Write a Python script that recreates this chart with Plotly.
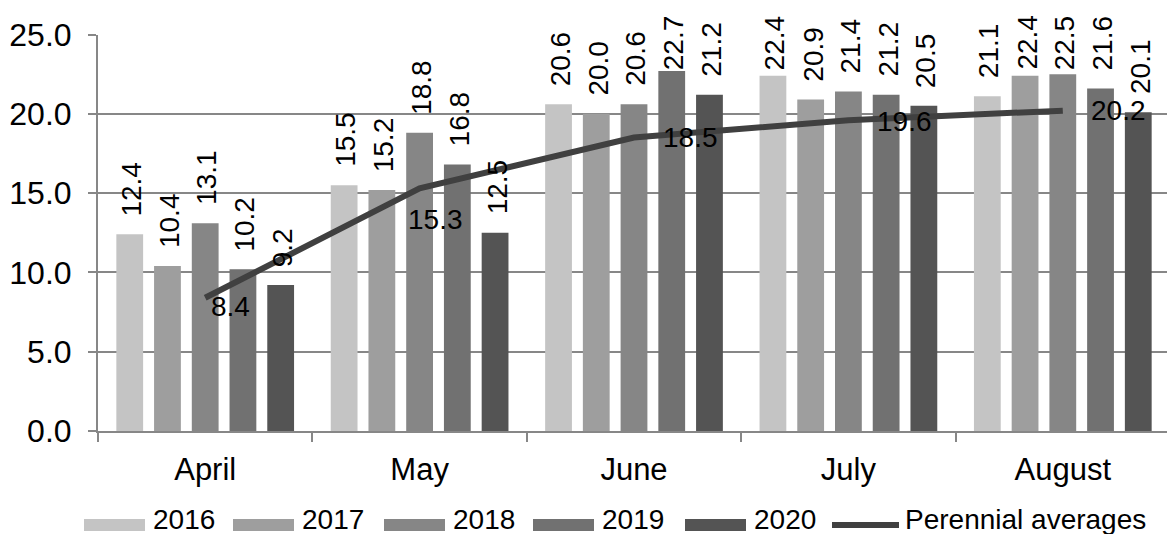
import plotly.graph_objects as go

# ---- data -------------------------------------------------------------
months = ["April", "May", "June", "July", "August"]
years = ["2016", "2017", "2018", "2019", "2020"]
t2016 = [12.4, 15.5, 20.6, 22.4, 21.1]
t2017 = [10.4, 15.2, 20.0, 20.9, 22.4]
t2018 = [13.1, 18.8, 20.6, 21.4, 22.5]
t2019 = [10.2, 16.8, 22.7, 21.2, 21.6]
t2020 = [9.2, 12.5, 21.2, 20.5, 20.1]
perennial = [8.4, 15.3, 18.5, 19.6, 20.2]
avg_name = "Perennial averages"
y_ticks = [0, 5, 10, 15, 20, 25]

series = [t2016, t2017, t2018, t2019, t2020]
bar_colors = ["#c4c4c4", "#9e9e9e", "#868686", "#717171", "#545454"]
line_color = "#404040"
grid_color = "#878787"
FONT = "Liberation Sans, Arial, sans-serif"

# ---- canvas geometry (pixels) ------------------------------------------
W, H = 1167, 536
plot_left, plot_right = 98, W
plot_top, plot_bottom = 34.5, 431
y_min, y_max = 0, 25
x_min, x_max = -0.5, 4.486
bargap, bargroupgap = 0.12, 0.29
cat_px = (plot_right - plot_left) / (x_max - x_min)
slot_px = cat_px * (1 - bargap) / len(series)
unit_px = (plot_bottom - plot_top) / (y_max - y_min)

fig = go.Figure()

for name, vals, col in zip(years, series, bar_colors):
    fig.add_trace(go.Bar(
        x=months, y=vals, name=name, marker=dict(color=col, line_width=0),
        showlegend=False, hoverinfo="x+y+name",
    ))

fig.add_trace(go.Scatter(
    x=months, y=perennial, name=avg_name, mode="lines",
    line=dict(color=line_color, width=6), showlegend=False,
))

annotations = []

# vertical value labels above each bar; labels that would run past the
# top of the chart are pulled down so they stay inside it
label_gap = 16
label_lowest_bottom = 67
for i, vals in enumerate(series):
    for m, v in zip(months, vals):
        bar_top = plot_bottom - v * unit_px
        shift = label_gap
        if bar_top - label_gap - 5 < label_lowest_bottom:
            shift = bar_top - label_lowest_bottom - 5
        annotations.append(dict(
            x=m, y=v, xref="x", yref="y", text=f"{v:.1f}", showarrow=False,
            textangle=-90, xanchor="center", yanchor="bottom",
            xshift=(i - (len(series) - 1) / 2) * slot_px + 2, yshift=shift,
            font=dict(family=FONT, size=28, color="#000000"),
        ))

# labels of the average line
avg_dx = [6, -12, 29, 29, 28]
avg_dy = [-9, -31, 0, -1, 0]
for m, v, dx, dy in zip(months, perennial, avg_dx, avg_dy):
    annotations.append(dict(
        x=m, y=v, xref="x", yref="y", text=f"{v:.1f}", showarrow=False,
        xanchor="left", yanchor="middle", xshift=dx - 2, yshift=dy,
        font=dict(family=FONT, size=28, color="#000000"),
    ))

# legend drawn along the bottom
shapes = []
def px(xp):
    return xp / W
def py(yp):
    return 1 - yp / H

leg_y = 519
leg_x = [84, 233, 384, 533, 685]
sw_w, sw_h = 61, 12
for x0, name, col in zip(leg_x, years, bar_colors):
    shapes.append(dict(type="rect", xref="paper", yref="paper",
                       x0=px(x0), x1=px(x0 + sw_w),
                       y0=py(525 + sw_h / 2), y1=py(525 - sw_h / 2),
                       fillcolor=col, line_width=0))
    annotations.append(dict(x=px(x0 + sw_w + 6), y=py(leg_y), xref="paper", yref="paper",
                            text=name, showarrow=False, xanchor="left", yanchor="middle",
                            height=30,
                            font=dict(family=FONT, size=28, color="#000000")))
lx0, lx1 = 832, 899
shapes.append(dict(type="line", xref="paper", yref="paper",
                   x0=px(lx0), x1=px(lx1), y0=py(525), y1=py(525),
                   line=dict(color=line_color, width=6)))
annotations.append(dict(x=px(lx1 + 4), y=py(leg_y), xref="paper", yref="paper",
                        text=avg_name, showarrow=False, xanchor="left", yanchor="middle",
                        height=30,
                        font=dict(family=FONT, size=28, color="#000000")))

fig.update_layout(
    width=W, height=H, autosize=False,
    margin=dict(l=0, r=0, t=0, b=0, autoexpand=False),
    paper_bgcolor="white", plot_bgcolor="white",
    barmode="group", bargap=bargap, bargroupgap=bargroupgap,
    showlegend=False,
    font=dict(family=FONT, size=28, color="#000000"),
    annotations=annotations, shapes=shapes,
    xaxis=dict(
        domain=[plot_left / W, 1], range=[x_min, x_max], type="category",
        automargin=False,
        showline=True, linecolor=grid_color, linewidth=2,
        ticks="outside", tickson="boundaries", ticklen=9, tickcolor=grid_color, tickwidth=2,
        showgrid=False, ticklabelstandoff=10,
        tickfont=dict(family=FONT, size=31, color="#000000"),
    ),
    yaxis=dict(
        domain=[1 - plot_bottom / H, 1 - plot_top / H], range=[y_min, y_max],
        automargin=False,
        tickvals=y_ticks, ticktext=[f"{t:.1f}" for t in y_ticks],
        showline=True, linecolor=grid_color, linewidth=2,
        showgrid=True, gridcolor=grid_color, gridwidth=2,
        ticks="outside", ticklen=8, tickcolor=grid_color, tickwidth=2,
        ticklabelstandoff=10, zeroline=False,
        tickfont=dict(family=FONT, size=32, color="#000000"),
    ),
)

fig.write_html("out.html")
